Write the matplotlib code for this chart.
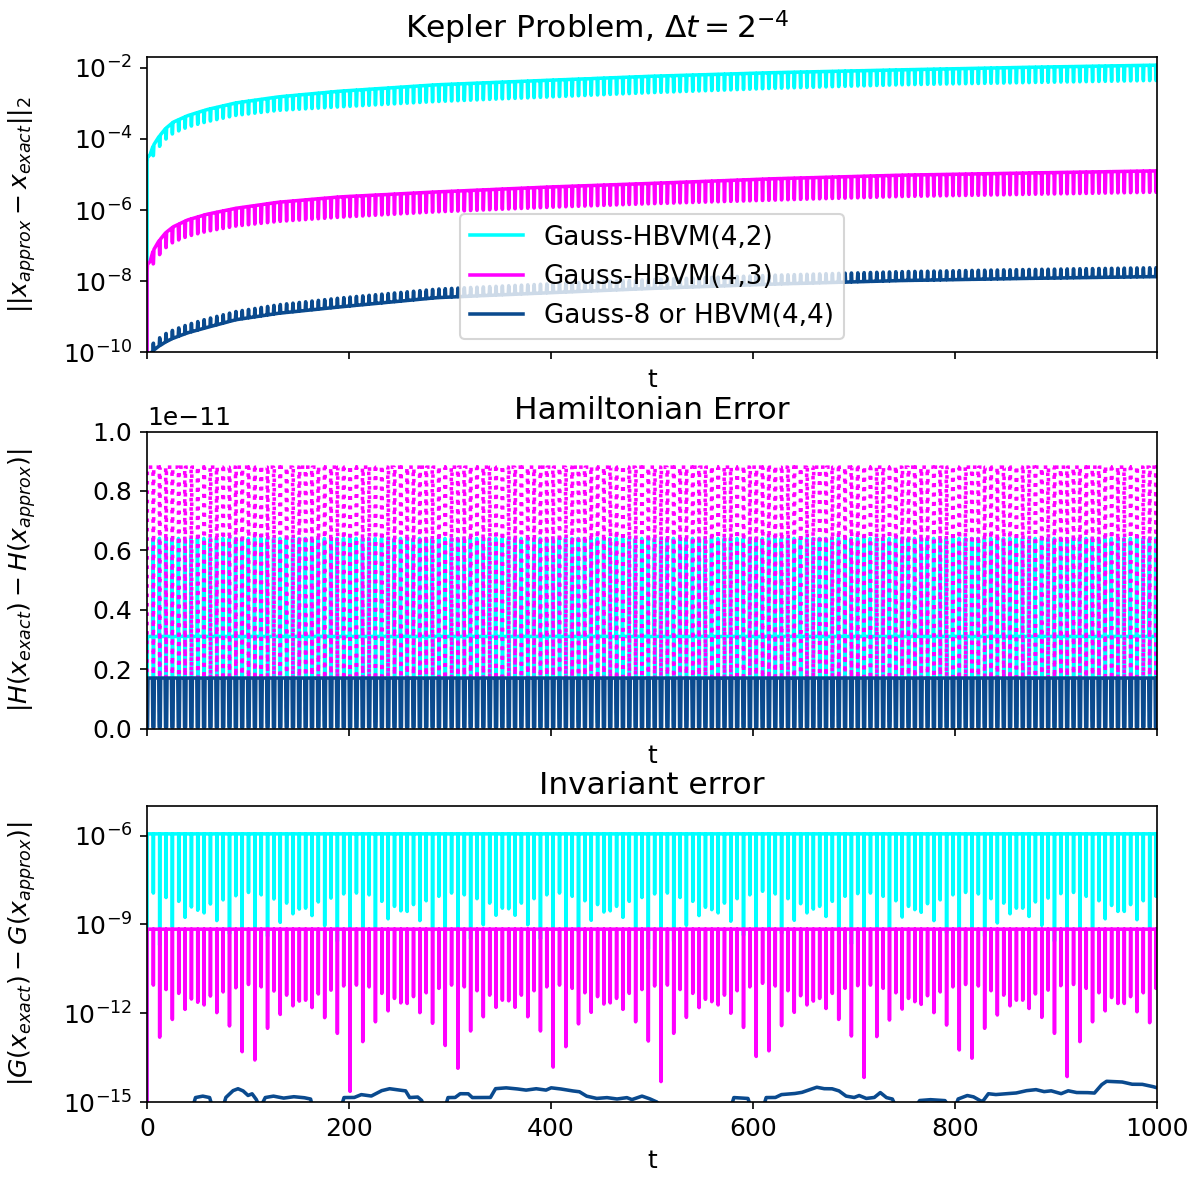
import numpy as np
import matplotlib.pyplot as plt
from matplotlib.ticker import NullLocator


DT = 2.0 ** -4
T_END = 1000.0
ORBIT = 2 * np.pi  # period of the e = 0.6 Kepler orbit

LABELS = ["Gauss-HBVM(4,2)", "Gauss-HBVM(4,3)", "Gauss-8 or HBVM(4,4)"]
COLORS = ["#00ffff", "#ff00ff", "#0a4a8e"]
LW = 1.7

# global error, log10 of the upper / lower edge of each band
ERR_T = [1, 3, 6, 11, 18, 26, 40, 59, 88, 130, 191, 287, 400, 500, 620, 746, 870, 996]
ERR_HI_42 = [-4.50, -4.45, -4.20, -3.97, -3.72, -3.53, -3.35, -3.18, -2.99, -2.82,
             -2.66, -2.48, -2.35, -2.24, -2.14, -2.06, -1.99, -1.93]
ERR_LO_42 = [-4.65, -4.70, -4.48, -4.26, -4.02, -3.84, -3.67, -3.52, -3.34, -3.20,
             -3.10, -2.95, -2.82, -2.70, -2.58, -2.48, -2.42, -2.36]
ERR_HI_43 = [-7.50, -7.45, -7.15, -6.90, -6.65, -6.47, -6.28, -6.12, -5.95, -5.78,
             -5.63, -5.49, -5.35, -5.25, -5.12, -5.02, -4.96, -4.90]
ERR_LO_43 = [-7.75, -7.80, -7.52, -7.30, -7.07, -6.90, -6.74, -6.60, -6.45, -6.32,
             -6.20, -6.05, -5.92, -5.82, -5.72, -5.62, -5.56, -5.50]
ERR_HI_44 = [-10.00, -9.85, -9.75, -9.62, -9.48, -9.37, -9.22, -9.06, -8.85, -8.66,
             -8.47, -8.22, -8.07, -7.95, -7.83, -7.73, -7.67, -7.62]
ERR_LO_44 = [-10.20, -10.05, -9.95, -9.84, -9.71, -9.60, -9.45, -9.30, -9.08, -8.90,
             -8.72, -8.46, -8.32, -8.20, -8.08, -7.98, -7.92, -7.87]

# shape of the perihelion tooth (time offset from perihelion -> fraction of band)
TOOTH_TAU = [-3.2, -0.45, -0.1, 0.1, 0.45, 3.2]
TOOTH_SHAPE = [0.0, 0.0, 1.0, 1.0, 0.0, 0.0]

# Hamiltonian error around one perihelion passage, in units of 1e-11
H_TAU_42 = [-3.2, -0.7, -0.4, -0.2, 0.0, 0.3, 3.2]
H_LVL_42 = [0.31, 0.31, 0.64, 0.64, 0.0, 0.31, 0.31]
H_TAU_43 = [-3.2, -0.3, 0.0, 0.3, 3.2]
H_LVL_43 = [0.88, 0.88, 0.0, 0.88, 0.88]
H_TAU_44 = [-3.2, -0.9, -0.6, 0.6, 0.9, 3.2]
H_LVL_44 = [0.17, 0.17, 0.005, 0.005, 0.17, 0.17]

# invariant error: level between perihelion passages (log10)
G_LEVEL_42 = -5.94
G_LEVEL_43 = -9.16
G_DIP_SHIFT_42 = 3.11  # HBVM(4,2) dips sit this many decades above HBVM(4,3)

# log10 of the HBVM(4,3) invariant error at each perihelion passage, orbits 1..159
G_DIP_43 = [
    -11.05, -12.81, -11.20, -12.21, -11.33, -11.87, -11.52, -11.63, -11.72, -11.42,
    -11.98, -11.28, -12.43, -11.14, -13.30, -11.03, -13.58, -11.11, -12.51, -11.25,
    -12.04, -11.39, -11.75, -11.59, -11.56, -11.81, -11.35, -12.15, -11.22, -12.68,
    -11.08, -14.64, -11.05, -12.96, -11.11, -12.29, -11.33, -11.92, -11.50, -11.65,
    -11.67, -11.44, -11.98, -11.31, -12.34, -11.16, -13.09, -11.05, -13.86, -11.11,
    -12.60, -11.24, -12.12, -11.39, -11.80, -11.56, -11.58, -11.80, -11.39, -12.12,
    -11.24, -12.60, -11.11, -13.82, -11.05, -13.13, -11.16, -12.36, -11.31, -11.97,
    -11.44, -11.69, -11.65, -11.50, -11.87, -11.33, -12.29, -11.20, -12.94, -11.08,
    -14.31, -11.05, -12.68, -11.20, -12.14, -11.33, -11.81, -11.53, -11.61, -11.72,
    -11.39, -12.00, -11.24, -12.48, -11.11, -13.46, -10.99, -13.27, -11.08, -12.42,
    -11.24, -11.97, -11.41, -11.72, -11.59, -11.50, -11.84, -11.33, -12.21, -11.16,
    -12.77, -11.07, -14.17, -11.05, -12.79, -11.16, -12.23, -11.31, -11.86, -11.50,
    -11.61, -11.70, -11.41, -11.98, -11.28, -12.40, -11.11, -13.24, -11.03, -13.52,
    -11.08, -12.51, -11.24, -12.06, -11.39, -11.75, -11.56, -11.56, -11.84, -11.35,
    -12.14, -11.22, -12.68, -11.07, -14.14, -11.03, -12.96, -11.16, -12.29, -11.31,
    -11.92, -11.47, -11.67, -11.67, -11.44, -11.95, -11.31, -12.32, -11.16,
]

# round-off drift of the Gauss-8 invariant (log10), -15.2 = below the axis
G_DRIFT_T = [
    0, 45, 48, 55, 62, 65, 75, 78, 85, 90, 95, 100, 104, 108, 112, 117, 125, 135,
    145, 155, 162, 164, 192, 195, 205, 212, 222, 232, 240, 250, 256, 260, 268, 272,
    274, 295, 298, 305, 310, 318, 322, 340, 345, 355, 365, 375, 385, 395, 400, 408,
    420, 428, 435, 445, 455, 465, 475, 480, 490, 497, 505, 508, 578, 581, 595, 598,
    610, 613, 622, 628, 640, 648, 655, 663, 670, 678, 685, 692, 700, 705, 712, 720,
    726, 732, 738, 742, 760, 765, 775, 790, 795, 800, 803, 812, 818, 825, 827, 833,
    840, 850, 860, 870, 880, 888, 895, 905, 912, 920, 930, 938, 945, 950, 965, 975,
    985, 995, 1000,
]
G_DRIFT_LOG = [
    -15.2, -15.2, -14.85, -14.8, -14.85, -15.2, -15.2, -14.85, -14.62, -14.55,
    -14.62, -14.78, -14.72, -14.9, -15.2, -14.85, -14.8, -14.87, -14.82, -14.85,
    -14.9, -15.2, -15.2, -14.85, -14.85, -14.75, -14.8, -14.62, -14.55, -14.6,
    -14.62, -14.85, -14.83, -14.95, -15.2, -15.2, -14.85, -14.85, -14.72, -14.72,
    -14.85, -14.85, -14.55, -14.52, -14.55, -14.6, -14.55, -14.6, -14.52, -14.55,
    -14.62, -14.65, -14.8, -14.88, -14.85, -14.9, -14.85, -14.92, -14.8, -14.88,
    -15.0, -15.2, -15.2, -14.85, -14.88, -15.2, -15.2, -14.85, -14.85, -14.75,
    -14.72, -14.68, -14.6, -14.5, -14.55, -14.55, -14.62, -14.8, -14.85, -14.78,
    -14.88, -14.85, -14.68, -14.85, -14.9, -15.2, -15.2, -14.95, -14.92, -14.95,
    -15.2, -15.2, -14.9, -14.78, -14.82, -14.95, -15.0, -14.72, -14.75, -14.72,
    -14.7, -14.62, -14.58, -14.65, -14.62, -14.72, -14.62, -14.68, -14.68, -14.7,
    -14.42, -14.3, -14.32, -14.4, -14.4, -14.47, -14.52,
]


t = np.arange(0.0, T_END + DT / 2, DT)
tau = t - np.rint(t / ORBIT) * ORBIT  # offset from the nearest perihelion


def solution_error(hi, lo, teeth_down=True):
    upper = np.interp(t, ERR_T, hi)
    lower = np.interp(t, ERR_T, lo)
    tooth = np.interp(tau, TOOTH_TAU, TOOTH_SHAPE)
    if teeth_down:
        logv = upper - (upper - lower) * tooth
    else:
        logv = lower + (upper - lower) * tooth
    err = 10.0 ** logv
    err[0] = 0.0
    return err


def hamiltonian_error(tau_knots, levels):
    err = np.interp(tau, tau_knots, levels) * 1e-11
    err[0] = 0.0
    return err


def invariant_error(level, dips):
    logv = np.full(t.shape, level)
    idx = np.rint(np.arange(1, len(dips) + 1) * ORBIT / DT).astype(int)
    logv[idx] = dips
    err = 10.0 ** logv
    err[0] = 0.0
    return err


def main():
    plt.rcParams["font.size"] = 12
    plt.rcParams["lines.linewidth"] = LW

    fig = plt.figure(figsize=(1194 / 150, 1180 / 150), dpi=150)
    ax1 = fig.add_axes([0.1231, 0.7013, 0.8459, 0.2504])
    ax2 = fig.add_axes([0.1231, 0.3826, 0.8459, 0.2517])
    ax3 = fig.add_axes([0.1231, 0.0661, 0.8459, 0.2508])

    fig.suptitle(r"Kepler Problem, $\Delta t = 2^{-4}$", fontsize=15, y=0.993, va="top")

    # solution error
    sol = [
        solution_error(ERR_HI_42, ERR_LO_42),
        solution_error(ERR_HI_43, ERR_LO_43),
        solution_error(ERR_HI_44, ERR_LO_44, teeth_down=False),
    ]
    for err, label, color in zip(sol, LABELS, COLORS):
        ax1.semilogy(t, err, color=color, label=label)
    ax1.set_ylim(1e-10, 2e-2)
    ax1.set_yticks([1e-10, 1e-8, 1e-6, 1e-4, 1e-2])
    ax1.yaxis.set_minor_locator(NullLocator())
    ax1.set_ylabel(r"$||x_{approx} - x_{exact}||_2$")
    ax1.legend(loc="lower center", fontsize=12.6)

    # Hamiltonian error
    ham = [
        hamiltonian_error(H_TAU_42, H_LVL_42),
        hamiltonian_error(H_TAU_43, H_LVL_43),
        hamiltonian_error(H_TAU_44, H_LVL_44),
    ]
    styles = ["-", ":", "-"]
    for err, color, ls in zip(ham, COLORS, styles):
        ax2.plot(t, err, color=color, linestyle=ls)
    ax2.set_ylim(0, 1e-11)
    ax2.set_ylabel(r"$|H(x_{exact}) - H(x_{approx})|$")
    ax2.set_title("Hamiltonian Error", fontsize=15)

    # invariant (angular momentum) error
    g42 = invariant_error(G_LEVEL_42, np.array(G_DIP_43) + G_DIP_SHIFT_42)
    g43 = invariant_error(G_LEVEL_43, G_DIP_43)
    g44 = 10.0 ** np.interp(t, G_DRIFT_T, G_DRIFT_LOG)
    g44[0] = 0.0
    for err, color in zip([g42, g43, g44], COLORS):
        ax3.semilogy(t, err, color=color)
    ax3.set_ylim(1e-15, 1e-5)
    ax3.set_yticks([1e-15, 1e-12, 1e-9, 1e-6])
    ax3.yaxis.set_minor_locator(NullLocator())
    ax3.set_ylabel(r"$|G(x_{exact}) - G(x_{approx})|$")
    ax3.set_title("Invariant error", fontsize=15)

    for ax in (ax1, ax2, ax3):
        ax.set_xlim(0, T_END)
        ax.set_xticks(np.arange(0, 1001, 200))
        ax.set_xlabel("t")
        ax.yaxis.set_label_coords(-0.108, 0.5)
    ax1.tick_params(labelbottom=False)
    ax2.tick_params(labelbottom=False)

    fig.savefig("out.png", dpi=150)
    plt.close(fig)


if __name__ == "__main__":
    main()
